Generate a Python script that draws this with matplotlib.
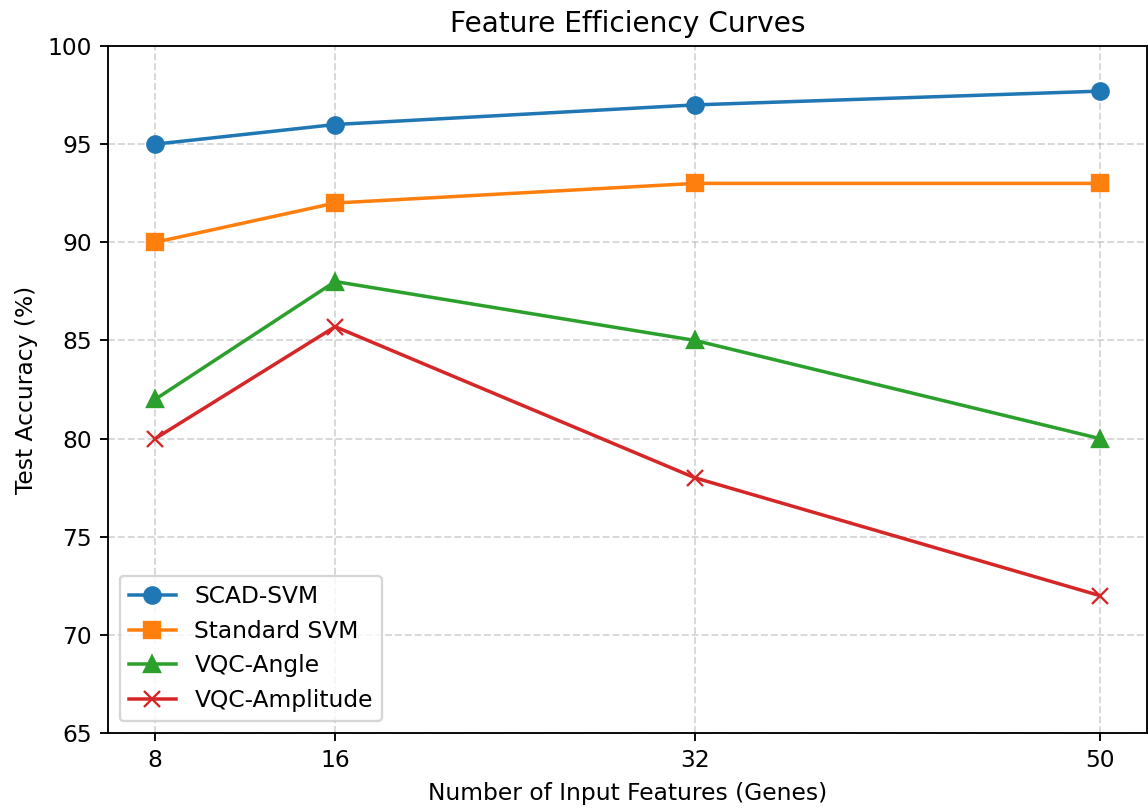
import matplotlib
matplotlib.use("Agg")
import matplotlib.pyplot as plt

# feature counts and test accuracies (%)
n_features = [8, 16, 32, 50]
scad_svm = [95.0, 96.0, 97.0, 97.7]
standard_svm = [90.0, 92.0, 93.0, 93.0]
vqc_angle = [82.0, 88.0, 85.0, 80.0]
vqc_amplitude = [80.0, 85.7, 78.0, 72.0]

DPI = 168
fig = plt.figure(figsize=(1148 / DPI, 809 / DPI), dpi=DPI)
ax = fig.add_axes([108 / 1148, 76 / 809, 1039 / 1148, 687 / 809])

ax.plot(n_features, scad_svm, marker="o", lw=1.5, ms=7, label="SCAD-SVM")
ax.plot(n_features, standard_svm, marker="s", lw=1.5, ms=7, label="Standard SVM")
ax.plot(n_features, vqc_angle, marker="^", lw=1.5, ms=7, label="VQC-Angle")
ax.plot(n_features, vqc_amplitude, marker="x", lw=1.5, ms=7, label="VQC-Amplitude")

ax.set_xticks(n_features)
ax.set_ylim(65, 100)
ax.set_xlabel("Number of Input Features (Genes)")
ax.set_ylabel("Test Accuracy (%)")
ax.set_title("Feature Efficiency Curves")
ax.grid(True, ls="--", alpha=0.5)
ax.legend(loc="lower left")

fig.savefig("out.png", dpi=DPI)
